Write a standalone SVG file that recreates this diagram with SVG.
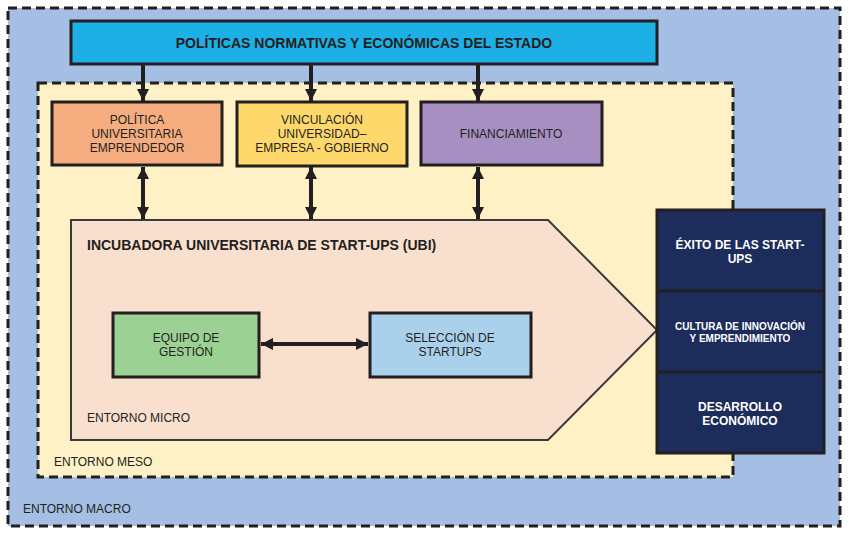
<svg xmlns="http://www.w3.org/2000/svg" width="849" height="537" viewBox="0 0 849 537">
<style>
.t{font-family:"Liberation Sans",Arial,sans-serif;fill:#231f20;font-size:12px}
.b{font-weight:bold;font-size:14px}
.w{fill:#ffffff;font-weight:bold}
.s{font-size:10px}
.box{stroke:#231f20;stroke-width:3}
.ln{stroke:#231f20;stroke-width:4;fill:none}
</style>
<defs>
<marker id="ah" viewBox="0 0 10 10" refX="10" refY="5" markerWidth="3.2" markerHeight="3" orient="auto-start-reverse" markerUnits="strokeWidth">
<path d="M0,0 L10,5 L0,10 Z" fill="#231f20"/>
</marker>
</defs>
<rect width="849" height="537" fill="#ffffff"/>
<g id="macro">
<rect x="8" y="8" width="832" height="518" fill="#A4BFE3" stroke="#231f20" stroke-width="3" stroke-dasharray="9,5"/>
<text class="t" x="23" y="513">ENTORNO MACRO</text>
</g>
<g id="meso">
<rect x="38" y="83" width="695" height="394" fill="#FFF1C6" stroke="#231f20" stroke-width="3" stroke-dasharray="9,5"/>
<text class="t" x="54" y="466">ENTORNO MESO</text>
</g>
<g id="politicas-estado">
<rect class="box" x="71" y="21" width="586" height="43" fill="#1CB0E6"/>
<text class="t b" x="364" y="48" text-anchor="middle">POLÍTICAS NORMATIVAS Y ECONÓMICAS DEL ESTADO</text>
</g>
<g id="politica-universitaria">
<rect class="box" x="52" y="102" width="170" height="63" fill="#F5AD80"/>
<text class="t" text-anchor="middle" x="137" y="124">POLÍTICA</text>
<text class="t" text-anchor="middle" x="137" y="138">UNIVERSITARIA</text>
<text class="t" text-anchor="middle" x="137" y="152">EMPRENDEDOR</text>
</g>
<g id="vinculacion">
<rect class="box" x="237" y="102" width="170" height="64" fill="#FFD86B"/>
<text class="t" text-anchor="middle" x="322" y="124">VINCULACIÓN</text>
<text class="t" text-anchor="middle" x="322" y="138">UNIVERSIDAD–</text>
<text class="t" text-anchor="middle" x="322" y="152">EMPRESA - GOBIERNO</text>
</g>
<g id="financiamiento">
<rect class="box" x="421" y="102" width="181" height="63" fill="#A78FC1"/>
<text class="t" text-anchor="middle" x="511" y="138">FINANCIAMIENTO</text>
</g>
<g id="incubadora">
<path d="M71,220 L548,220 L657,330 L548,440 L71,440 Z" fill="#F9DFCE" stroke="#3a3a3a" stroke-width="2"/>
<text class="t b" x="87" y="250">INCUBADORA UNIVERSITARIA DE START-UPS (UBI)</text>
<text class="t" x="87" y="422">ENTORNO MICRO</text>
</g>
<g id="equipo-gestion">
<rect class="box" x="113" y="313" width="146" height="64" fill="#9BD192"/>
<text class="t" text-anchor="middle" x="186" y="342">EQUIPO DE</text>
<text class="t" text-anchor="middle" x="186" y="356">GESTIÓN</text>
</g>
<g id="seleccion-startups">
<rect class="box" x="370" y="313" width="161" height="64" fill="#AAD1EC"/>
<text class="t" text-anchor="middle" x="450" y="342">SELECCIÓN DE</text>
<text class="t" text-anchor="middle" x="450" y="356">STARTUPS</text>
</g>
<g id="resultados">
<rect class="box" x="657" y="210" width="167" height="243" fill="#1C2C5B"/>
<line x1="657" y1="291" x2="824" y2="291" stroke="#231f20" stroke-width="3"/>
<line x1="657" y1="372" x2="824" y2="372" stroke="#231f20" stroke-width="3"/>
<text class="t w" text-anchor="middle" x="740" y="249">ÉXITO DE LAS START-</text>
<text class="t w" text-anchor="middle" x="740" y="263">UPS</text>
<text class="t w s" text-anchor="middle" x="740" y="330">CULTURA DE INNOVACIÓN</text>
<text class="t w s" text-anchor="middle" x="740" y="342">Y EMPRENDIMIENTO</text>
<text class="t w" text-anchor="middle" x="740" y="411">DESARROLLO</text>
<text class="t w" text-anchor="middle" x="740" y="425">ECONÓMICO</text>
</g>
<g id="connectors">
<line class="ln" x1="143" y1="65" x2="143" y2="101" marker-end="url(#ah)"/>
<line class="ln" x1="311" y1="65" x2="311" y2="101" marker-end="url(#ah)"/>
<line class="ln" x1="478" y1="65" x2="478" y2="101" marker-end="url(#ah)"/>
<line class="ln" x1="143" y1="167" x2="143" y2="219" marker-start="url(#ah)" marker-end="url(#ah)"/>
<line class="ln" x1="311" y1="167" x2="311" y2="219" marker-start="url(#ah)" marker-end="url(#ah)"/>
<line class="ln" x1="478" y1="167" x2="478" y2="219" marker-start="url(#ah)" marker-end="url(#ah)"/>
<line class="ln" x1="261" y1="344" x2="368" y2="344" marker-start="url(#ah)" marker-end="url(#ah)"/>
</g>
</svg>
